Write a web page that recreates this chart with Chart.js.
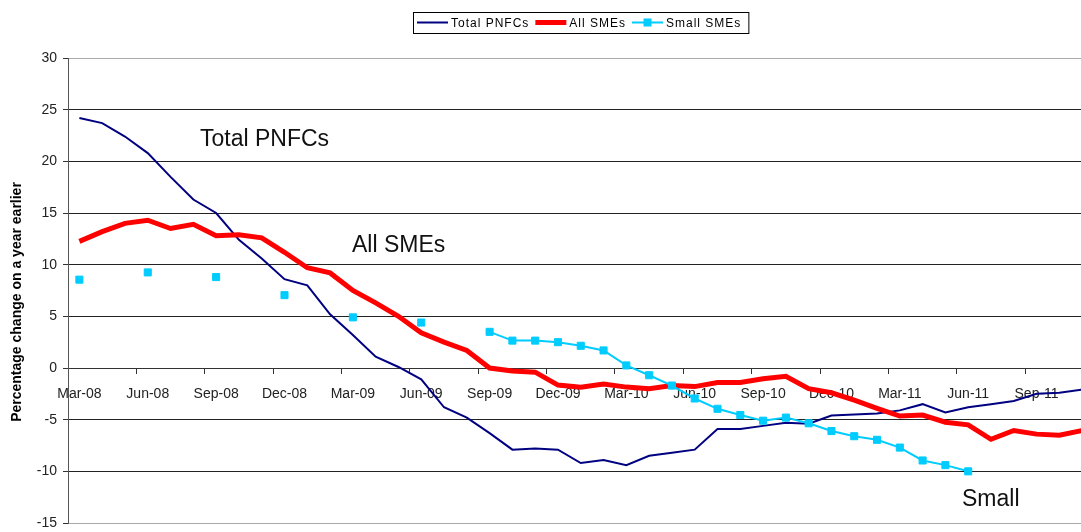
<!DOCTYPE html>
<html>
<head>
<meta charset="utf-8">
<script src="https://cdn.jsdelivr.net/npm/chart.js@4.4.1/dist/chart.umd.min.js"></script>
<style>
    html, body { margin: 0; padding: 0; background: #fff; }
    #wrap { width: 1081px; height: 532px; position: relative; }
</style>
</head>
<body>
<div id="wrap"><canvas id="chartLending"></canvas></div>
<script>
const months = [
    'Mar-08', 'Apr-08', 'May-08', 'Jun-08', 'Jul-08', 'Aug-08', 'Sep-08', 'Oct-08', 'Nov-08', 'Dec-08',
    'Jan-09', 'Feb-09', 'Mar-09', 'Apr-09', 'May-09', 'Jun-09', 'Jul-09', 'Aug-09', 'Sep-09', 'Oct-09', 'Nov-09', 'Dec-09',
    'Jan-10', 'Feb-10', 'Mar-10', 'Apr-10', 'May-10', 'Jun-10', 'Jul-10', 'Aug-10', 'Sep-10', 'Oct-10', 'Nov-10', 'Dec-10',
    'Jan-11', 'Feb-11', 'Mar-11', 'Apr-11', 'May-11', 'Jun-11', 'Jul-11', 'Aug-11', 'Sep-11', 'Oct-11', 'Nov-11'
];

const totalPNFCs = [
    24.2, 23.7, 22.4, 20.8, 18.5, 16.3, 15.0, 12.4, 10.6, 8.6,
    8.0, 5.2, 3.2, 1.1, 0.1, -1.1, -3.8, -4.8, -6.3, -7.9, -7.8, -7.9,
    -9.2, -8.9, -9.4, -8.5, -8.2, -7.9, -5.9, -5.9, -5.6, -5.3, -5.4, -4.6,
    -4.5, -4.4, -4.1, -3.5, -4.3, -3.8, -3.5, -3.2, -2.5, -2.4, -2.1
];

const allSMEs = [
    12.25, 13.2, 14.0, 14.3, 13.5, 13.9, 12.8, 12.9, 12.6, 11.2,
    9.7, 9.2, 7.5, 6.3, 5.0, 3.4, 2.5, 1.7, 0.0, -0.3, -0.4, -1.65,
    -1.85, -1.55, -1.85, -2.0, -1.7, -1.8, -1.4, -1.4, -1.05, -0.8, -2.0, -2.4,
    -3.1, -3.9, -4.65, -4.55, -5.25, -5.5, -6.9, -6.05, -6.4, -6.5, -6.05
];

// quarterly until Sep-09, monthly afterwards, stops at Jun-11
const smallSMEs = [
    8.55, null, null, 9.25, null, null, 8.8, null, null, 7.05,
    null, null, 4.9, null, null, 4.4, null, null, 3.5, 2.65, 2.65, 2.5,
    2.15, 1.7, 0.25, -0.7, -1.7, -2.95, -3.95, -4.55, -5.1, -4.8, -5.35, -6.1,
    -6.6, -6.95, -7.7, -8.95, -9.4, -10.0, null, null, null, null, null
];

const yTicks = [-15, -10, -5, 0, 5, 10, 15, 20, 25, 30];
// tick marks every 3 months, on the boundary before each labelled month
const xTickPos = [-0.5, 2.5, 5.5, 8.5, 11.5, 14.5, 17.5, 20.5, 23.5, 26.5, 29.5, 32.5, 35.5, 38.5, 41.5];

const yTitle = 'Percentage change on a year earlier';

const FONT = "'Liberation Sans', Arial, sans-serif";

const notes = [
    { text: 'Total PNFCs', x: 200, y: 146 },
    { text: 'All SMEs', x: 352, y: 252 },
    { text: 'Small', x: 962, y: 506 }
];

const toPoints = (arr) => arr.map((v, i) => ({ x: i, y: v }));

const data = {
    datasets: [{
        label: 'Total PNFCs',
        borderColor: '#000080',
        backgroundColor: '#000080',
        borderWidth: 2,
        pointRadius: 0,
        order: 2,
        data: toPoints(totalPNFCs),
    }, {
        label: 'All SMEs',
        borderColor: '#ff0000',
        backgroundColor: '#ff0000',
        borderWidth: 5,
        pointRadius: 0,
        order: 1,
        data: toPoints(allSMEs),
    }, {
        label: 'Small SMEs',
        borderColor: '#00ccff',
        backgroundColor: '#00ccff',
        borderWidth: 2,
        pointStyle: 'rect',
        pointRadius: 5,
        pointBorderWidth: 1,
        spanGaps: false,
        order: 0,
        data: toPoints(smallSMEs),
    }]
};

const boxLegend = {
    id: 'boxLegend',
    afterDraw(chart) {
        const ctx = chart.ctx;
        ctx.save();
        ctx.font = '12px ' + FONT;
        ctx.letterSpacing = '1px';
        ctx.textBaseline = 'middle';
        const left = 413, top = 12, h = 21;
        let x = left + 4;
        const cy = top + h / 2;
        chart.data.datasets.forEach((ds) => {
            ctx.strokeStyle = ds.borderColor;
            ctx.lineWidth = ds.borderWidth;
            ctx.beginPath();
            ctx.moveTo(x, cy);
            ctx.lineTo(x + 31, cy);
            ctx.stroke();
            if (ds.pointStyle === 'rect') {
                ctx.fillStyle = ds.backgroundColor;
                ctx.fillRect(x + 15.5 - 4, cy - 4, 8, 8);
            }
            ctx.fillStyle = '#000';
            ctx.fillText(ds.label, x + 34, cy + 1);
            x += 34 + ctx.measureText(ds.label).width + 6;
        });
        ctx.strokeStyle = '#000';
        ctx.lineWidth = 1;
        ctx.strokeRect(left + 0.5, top + 0.5, x - left + 1, h);

        ctx.letterSpacing = '0px';
        ctx.font = '23px ' + FONT;
        ctx.fillStyle = '#111';
        ctx.textBaseline = 'alphabetic';
        notes.forEach((n) => ctx.fillText(n.text, n.x, n.y));

        // vertical axis title, sitting a little below the plot's middle as in the original
        ctx.translate(17.5, 302);
        ctx.rotate(-Math.PI / 2);
        ctx.font = 'bold 14px ' + FONT;
        ctx.fillStyle = '#000';
        ctx.textAlign = 'center';
        ctx.textBaseline = 'middle';
        ctx.fillText(yTitle, 0, 0);
        ctx.restore();
    }
};

const config = {
    type: 'line',
    data: data,
    options: {
        responsive: true,
        maintainAspectRatio: false,
        animation: false,
        layout: { autoPadding: false, padding: { top: 58, right: 0, bottom: 9, left: 0 } },
        plugins: {
            legend: { display: false },
            tooltip: { enabled: false }
        },
        scales: {
            x: {
                type: 'linear',
                position: { y: 0 },
                min: -0.5,
                max: 43.95,
                afterFit: (scale) => {
                    scale.height = 0;
                    scale.paddingLeft = 0;
                    scale.paddingRight = 0;
                },
                afterBuildTicks: (scale) => { scale.ticks = xTickPos.map(v => ({ value: v })); },
                grid: { drawOnChartArea: false, color: '#333', tickLength: 5 },
                border: { color: '#333' },
                ticks: {
                    autoSkip: false,
                    maxRotation: 0,
                    padding: 13,
                    labelOffset: 11.4,
                    color: '#222',
                    font: { family: FONT, size: 14 },
                    callback: (v) => months[Math.round(v + 0.5)]
                }
            },
            y: {
                min: -15,
                max: 30,
                afterFit: (scale) => {
                    scale.width = 68;
                    scale.paddingTop = 0;
                    scale.paddingBottom = 0;
                },
                afterBuildTicks: (scale) => { scale.ticks = yTicks.map(v => ({ value: v })); },
                grid: {
                    color: (c) => (c.tick && (c.tick.value === 30 || c.tick.value === -15)) ? '#aaa' : '#222',
                    tickColor: '#333',
                    tickLength: 5
                },
                border: { color: '#555' },
                ticks: {
                    padding: 6,
                    color: '#222',
                    font: { family: FONT, size: 14 }
                }
            }
        }
    },
    plugins: [boxLegend]
};

new Chart(
    document.getElementById('chartLending'),
    config
);
</script>
</body>
</html>
